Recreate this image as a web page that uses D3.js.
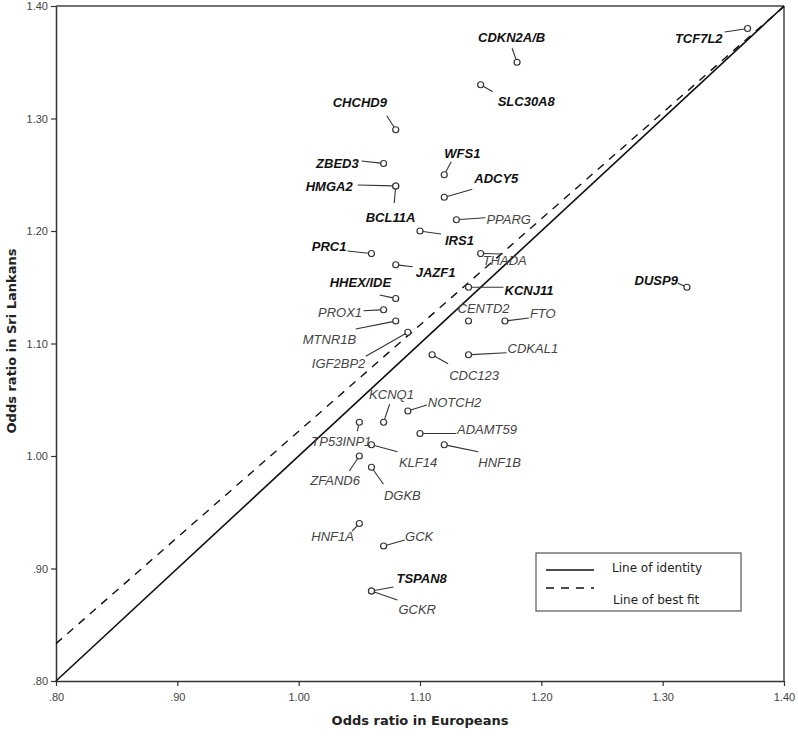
<!DOCTYPE html>
<html>
<head>
<meta charset="utf-8">
<script src="https://cdn.jsdelivr.net/npm/d3@7"></script>
<style>
  body { margin: 0; background: #fff; }
  svg { display: block; }
</style>
</head>
<body>
<svg width="798" height="736"></svg>
<script>
// Gene names and odds ratios (Europeans vs Sri Lankans)
const genes = ["TCF7L2", "CDKN2A/B", "SLC30A8", "CHCHD9", "ZBED3", "HMGA2", "BCL11A", "WFS1", "ADCY5",
  "PPARG", "IRS1", "PRC1", "THADA", "JAZF1", "HHEX/IDE", "KCNJ11", "CENTD2", "FTO", "PROX1", "MTNR1B",
  "IGF2BP2", "CDC123", "CDKAL1", "KCNQ1", "NOTCH2", "TP53INP1", "ADAMT59", "KLF14", "HNF1B", "ZFAND6",
  "DGKB", "HNF1A", "GCK", "TSPAN8", "GCKR", "DUSP9"];
const orEuropeans = [1.37, 1.18, 1.15, 1.08, 1.07, 1.08, 1.08, 1.12, 1.12,
  1.13, 1.10, 1.06, 1.15, 1.08, 1.08, 1.14, 1.14, 1.17, 1.07, 1.08,
  1.09, 1.11, 1.14, 1.07, 1.09, 1.05, 1.10, 1.06, 1.12, 1.05,
  1.06, 1.05, 1.07, 1.06, 1.06, 1.32];
const orSriLankans = [1.38, 1.35, 1.33, 1.29, 1.26, 1.24, 1.24, 1.25, 1.23,
  1.21, 1.20, 1.18, 1.18, 1.17, 1.14, 1.15, 1.12, 1.12, 1.13, 1.12,
  1.11, 1.09, 1.09, 1.03, 1.04, 1.03, 1.02, 1.01, 1.01, 1.00,
  0.99, 0.94, 0.92, 0.88, 0.88, 1.15];
const significantGenes = ["TCF7L2", "CDKN2A/B", "SLC30A8", "CHCHD9", "ZBED3", "HMGA2", "BCL11A", "WFS1",
  "ADCY5", "IRS1", "PRC1", "JAZF1", "HHEX/IDE", "KCNJ11", "TSPAN8", "DUSP9"];

const tickValues = [0.80, 0.90, 1.00, 1.10, 1.20, 1.30, 1.40];

// Best fit line (intercept, slope)
const bestFit = [0.078, 0.944];

// Label placement: [text dx, text dy, anchor, leader end dx, leader end dy] in px from the point
const labelLayout = {
  "TCF7L2": [-25, 14.5, "end", -23, 3.5],
  "CDKN2A/B": [-39, -20, "start", -5, -14],
  "SLC30A8": [17, 21, "start", 12, 7],
  "CHCHD9": [-63, -23, "start", -9, -14],
  "ZBED3": [-67.5, 4.5, "start", -22, -2.5],
  "HMGA2": [-90, 5, "start", -38, -1],
  "BCL11A": [-30, 36, "start", -1.5, 17],
  "WFS1": [0, -17, "start", 7, -13],
  "ADCY5": [30, -14, "start", 28, -8],
  "PPARG": [30, 4, "start", 29, -2],
  "IRS1": [25, 14, "start", 21, 3],
  "PRC1": [-25, -2.5, "end", -24, -2.5],
  "THADA": [2, 11.5, "start", 22, 0.5],
  "JAZF1": [20, 12, "start", 17, 2],
  "HHEX/IDE": [-66, -11.5, "start", -16, -3.5],
  "KCNJ11": [36, 8, "start", 35, 0],
  "CENTD2": [-11, -8, "start", 0, 0],
  "FTO": [25, -3, "start", 24, -3],
  "PROX1": [-21.5, 7, "end", -20, 1],
  "MTNR1B": [-93, 23, "start", -40, 8],
  "IGF2BP2": [-96, 36, "start", -42, 24],
  "CDC123": [17, 25, "start", 16, 9],
  "CDKAL1": [39, -2, "start", 38, -2],
  "KCNQ1": [-14.5, -23, "start", 6, -18],
  "NOTCH2": [20, -4, "start", 19, -6],
  "TP53INP1": [-48, 24, "start", -2, 9],
  "ADAMT59": [37, 0.5, "start", 36, 0],
  "KLF14": [27.5, 22, "start", 26, 7],
  "HNF1B": [34, 22, "start", 34, 7],
  "ZFAND6": [-49, 29, "start", -10, 15],
  "DGKB": [12.5, 33, "start", 12, 17],
  "HNF1A": [-48, 17.5, "start", -7, 7.5],
  "GCK": [21.5, -5, "start", 21, -6],
  "TSPAN8": [25, -8, "start", 22, -4],
  "GCKR": [27, 23, "start", 26, 9],
  "DUSP9": [-9, -2, "end", -9, -4]
};

const points = genes.map((g, i) => ({ gene: g, x: orEuropeans[i], y: orSriLankans[i] }));

const svg = d3.select("svg");
const plotLeft = 56, plotRight = 784, plotTop = 6, plotBottom = 681;

const xScale = d3.scaleLinear().domain([0.8, 1.4]).range([plotLeft, plotRight]);
const yScale = d3.scaleLinear().domain([0.8, 1.4]).range([plotBottom, plotTop]);

const fmt = v => d3.format(".2f")(v).replace(/^0/, "");

// Axes
const xAxis = svg.append("g")
  .attr("transform", `translate(0,${plotBottom})`)
  .call(d3.axisBottom(xScale).tickValues(tickValues).tickFormat(fmt).tickSize(5).tickSizeOuter(0));
const yAxis = svg.append("g")
  .attr("transform", `translate(${plotLeft},0)`)
  .call(d3.axisLeft(yScale).tickValues(tickValues).tickFormat(fmt).tickSize(5).tickSizeOuter(0));

[xAxis, yAxis].forEach(ax => {
  ax.select(".domain").attr("stroke", "#333").attr("stroke-width", 1.5);
  ax.selectAll(".tick line").attr("stroke", "#333").attr("stroke-width", 1.2);
  ax.selectAll(".tick text")
    .attr("font-family", "Liberation Sans, Arial, sans-serif")
    .attr("font-size", 11)
    .attr("fill", "#444");
});
xAxis.selectAll(".tick text").attr("dy", "1.1em");

// Frame top and right
svg.append("line")
  .attr("x1", plotLeft).attr("x2", plotRight).attr("y1", plotTop).attr("y2", plotTop)
  .attr("stroke", "#444").attr("stroke-width", 1.5);
svg.append("line")
  .attr("x1", plotRight).attr("x2", plotRight).attr("y1", plotTop).attr("y2", plotBottom)
  .attr("stroke", "#444").attr("stroke-width", 1.5);

// Axis titles
svg.append("text")
  .attr("x", 420)
  .attr("y", 725)
  .attr("text-anchor", "middle")
  .attr("font-family", "DejaVu Sans, Verdana, sans-serif")
  .attr("font-weight", "bold")
  .attr("font-size", 13)
  .attr("fill", "#222")
  .text("Odds ratio in Europeans");
svg.append("text")
  .attr("transform", `translate(16,341) rotate(-90)`)
  .attr("text-anchor", "middle")
  .attr("font-family", "DejaVu Sans, Verdana, sans-serif")
  .attr("font-weight", "bold")
  .attr("font-size", 13)
  .attr("fill", "#222")
  .text("Odds ratio in Sri Lankans");

// Line of identity
svg.append("line")
  .attr("x1", xScale(0.8)).attr("y1", yScale(0.8))
  .attr("x2", xScale(1.4)).attr("y2", yScale(1.4))
  .attr("stroke", "#111").attr("stroke-width", 1.6);

// Line of best fit
svg.append("line")
  .attr("x1", xScale(0.8)).attr("y1", yScale(bestFit[0] + bestFit[1] * 0.8))
  .attr("x2", xScale(1.4)).attr("y2", yScale(bestFit[0] + bestFit[1] * 1.4))
  .attr("stroke", "#111").attr("stroke-width", 1.4)
  .attr("stroke-dasharray", "8,7");

// Leader lines
const r = 3;
svg.append("g").selectAll("line")
  .data(points.filter(d => {
    const l = labelLayout[d.gene];
    return Math.hypot(l[3], l[4]) > r + 1;
  }))
  .enter()
  .append("line")
  .attr("x1", d => {
    const l = labelLayout[d.gene];
    return xScale(d.x) + l[3] / Math.hypot(l[3], l[4]) * r;
  })
  .attr("y1", d => {
    const l = labelLayout[d.gene];
    return yScale(d.y) + l[4] / Math.hypot(l[3], l[4]) * r;
  })
  .attr("x2", d => xScale(d.x) + labelLayout[d.gene][3])
  .attr("y2", d => yScale(d.y) + labelLayout[d.gene][4])
  .attr("stroke", "#333")
  .attr("stroke-width", 1.1);

// Points
svg.append("g").selectAll("circle")
  .data(points)
  .enter()
  .append("circle")
  .attr("cx", d => xScale(d.x))
  .attr("cy", d => yScale(d.y))
  .attr("r", r)
  .attr("fill", "#fff")
  .attr("stroke", "#333")
  .attr("stroke-width", 1.2);

// Labels
svg.append("g").selectAll("text")
  .data(points)
  .enter()
  .append("text")
  .attr("x", d => xScale(d.x) + labelLayout[d.gene][0])
  .attr("y", d => yScale(d.y) + labelLayout[d.gene][1])
  .attr("text-anchor", d => labelLayout[d.gene][2])
  .attr("font-family", "Liberation Sans, Arial, sans-serif")
  .attr("font-size", 13)
  .attr("font-style", "italic")
  .attr("font-weight", d => significantGenes.includes(d.gene) ? "bold" : "normal")
  .attr("fill", d => significantGenes.includes(d.gene) ? "#111" : "#444")
  .text(d => d.gene);

// Legend
const legend = svg.append("g").attr("transform", "translate(536,553)");
legend.append("rect")
  .attr("width", 205).attr("height", 58)
  .attr("fill", "#fff").attr("stroke", "#555").attr("stroke-width", 1.2);
legend.append("line")
  .attr("x1", 10).attr("x2", 58).attr("y1", 17).attr("y2", 17)
  .attr("stroke", "#111").attr("stroke-width", 1.6);
legend.append("line")
  .attr("x1", 10).attr("x2", 58).attr("y1", 35).attr("y2", 35)
  .attr("stroke", "#111").attr("stroke-width", 1.6)
  .attr("stroke-dasharray", "8,7");
legend.append("text")
  .attr("x", 76).attr("y", 19)
  .attr("font-family", "DejaVu Sans, Verdana, sans-serif")
  .attr("font-size", 12).attr("fill", "#222")
  .text("Line of identity");
legend.append("text")
  .attr("x", 77).attr("y", 51)
  .attr("font-family", "DejaVu Sans, Verdana, sans-serif")
  .attr("font-size", 12).attr("fill", "#222")
  .text("Line of best fit");
</script>
</body>
</html>
